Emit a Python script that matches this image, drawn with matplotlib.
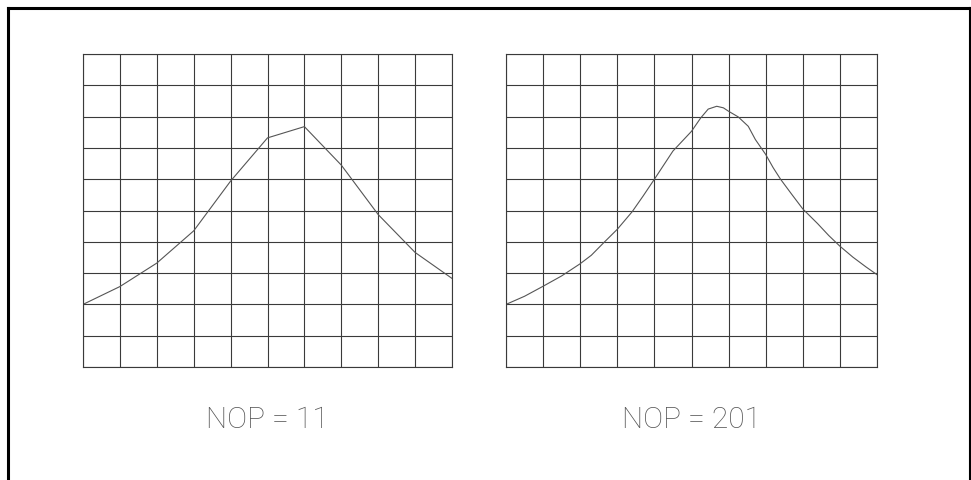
"""Two sampled versions of the same peak curve: coarse (11 points) vs fine (201 points)."""

import matplotlib.pyplot as plt
from matplotlib.lines import Line2D

# Coarse curve, 11 samples (grid units, 10 x 10 divisions)
X_COARSE = [0, 1, 2, 3, 4, 5, 6, 7, 8, 9, 10]
Y_COARSE = [2.0, 2.57, 3.32, 4.35, 5.94, 7.32, 7.68, 6.45, 4.87, 3.66, 2.83]

X_FINE = [0, 0.5, 1.0, 1.5, 2.0, 2.3, 2.65, 3.0, 3.4, 3.7, 4.0, 4.5, 5.0, 5.25,
          5.45, 5.68, 5.86, 6.0, 6.26, 6.53, 6.72, 7.0, 7.2, 7.4, 7.7, 8.0,
          8.4, 8.7, 9.0, 9.35, 9.7, 10.0]
Y_FINE = [2.0, 2.26, 2.58, 2.91, 3.30, 3.57, 3.99, 4.40, 4.96, 5.47, 6.0, 6.90,
          7.53, 7.96, 8.24, 8.33, 8.28, 8.17, 7.99, 7.69, 7.27, 6.79, 6.37, 6.0,
          5.52, 5.05, 4.58, 4.20, 3.86, 3.51, 3.20, 2.95]

LABELS = ["NOP = 11", "NOP = 201"]
N_DIV = 10

fig = plt.figure(figsize=(9.71, 4.81), dpi=100)

# outer frame (open at the bottom)
W, H = 971, 481
fx = lambda p: p / W
fy = lambda p: 1 - p / H
for xs, ys, lw in [([8, 8], [9, 481], 2.2), ([8, 970], [9, 9], 2.2), ([970, 970], [9, 481], 1.5)]:
    fig.add_artist(Line2D([fx(v) for v in xs], [fy(v) for v in ys], color="black", lw=lw))

panels = [
    (fig.add_axes([83 / W, 1 - 368 / H, 369 / W, 313 / H]), X_COARSE, Y_COARSE),
    (fig.add_axes([506 / W, 1 - 368 / H, 371 / W, 313 / H]), X_FINE, Y_FINE),
]

for (ax, xs, ys), label in zip(panels, LABELS):
    ax.plot(xs, ys, color="#555555", lw=0.8)
    ax.set_xlim(0, N_DIV)
    ax.set_ylim(0, N_DIV)
    ax.set_xticks(range(N_DIV + 1))
    ax.set_yticks(range(N_DIV + 1))
    ax.grid(True, color="#3a3a3a", lw=0.8)
    ax.tick_params(length=0, labelbottom=False, labelleft=False)
    for s in ax.spines.values():
        s.set_color("#3a3a3a")
        s.set_linewidth(0.8)
    ax.text(0.5, -0.165, label, transform=ax.transAxes, ha="center", va="center",
            fontsize=21.5, family=["Roboto", "DejaVu Sans"], fontweight="light",
            color="#555555")

fig.savefig("out.png", dpi=100)
